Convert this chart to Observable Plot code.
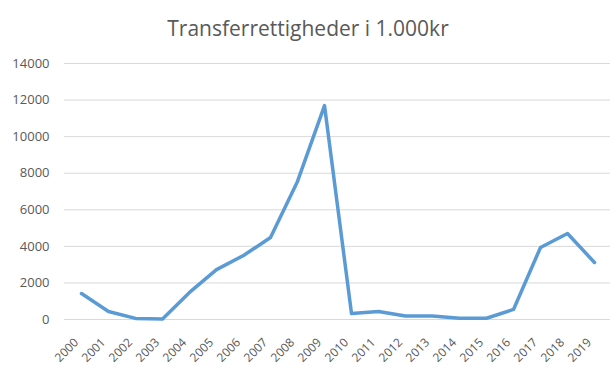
<!DOCTYPE html>
<html>
<head>
<meta charset="utf-8">
<script src="https://cdn.jsdelivr.net/npm/d3@7"></script>
<script src="https://cdn.jsdelivr.net/npm/@observablehq/plot@0.6"></script>
<style>
  body { margin: 0; background: #fff; }
  #title { height: 45px; width: 616px; text-align: center; font-family: "Open Sans", sans-serif; font-size: 21px; color: #595959; line-height: 56px; box-sizing: border-box; overflow: visible; }
</style>
</head>
<body>
<div id="title">Transferrettigheder i 1.000kr</div>
<div id="chart"></div>
<script>
const years = ["2000","2001","2002","2003","2004","2005","2006","2007","2008","2009","2010","2011","2012","2013","2014","2015","2016","2017","2018","2019"];
const values = [1420, 440, 60, 30, 1480, 2730, 3500, 4480, 7550, 11700, 330, 440, 190, 190, 70, 70, 550, 3940, 4700, 3120];
const yTicks = [0, 2000, 4000, 6000, 8000, 10000, 12000, 14000];

const data = years.map((y, i) => ({year: y, value: values[i]}));

const chart = Plot.plot({
  width: 616,
  height: 323,
  marginTop: 18,
  marginBottom: 49,
  marginLeft: 64,
  marginRight: 6,
  style: {fontFamily: "Open Sans, sans-serif", fontSize: "13px", color: "#595959", background: "#fff"},
  x: {type: "point", domain: years, padding: 0.5, label: null, axis: null},
  y: {domain: [0, 14000], label: null, axis: null},
  marks: [
    Plot.ruleY(yTicks, {stroke: "#d9d9d9", strokeWidth: 1}),
    Plot.axisY({ticks: yTicks, tickSize: 0, tickPadding: 15, tickFormat: d => String(d), label: null, fill: "#595959", fontSize: 13}),
    Plot.axisX({tickSize: 0, tickRotate: -45, tickPadding: 21, dx: -5, label: null, fill: "#595959", fontSize: 12}),
    Plot.line(data, {x: "year", y: "value", stroke: "#5b9bd5", strokeWidth: 3.5, strokeLinejoin: "round", strokeLinecap: "round"})
  ]
});
document.getElementById("chart").appendChild(chart);
</script>
</body>
</html>
